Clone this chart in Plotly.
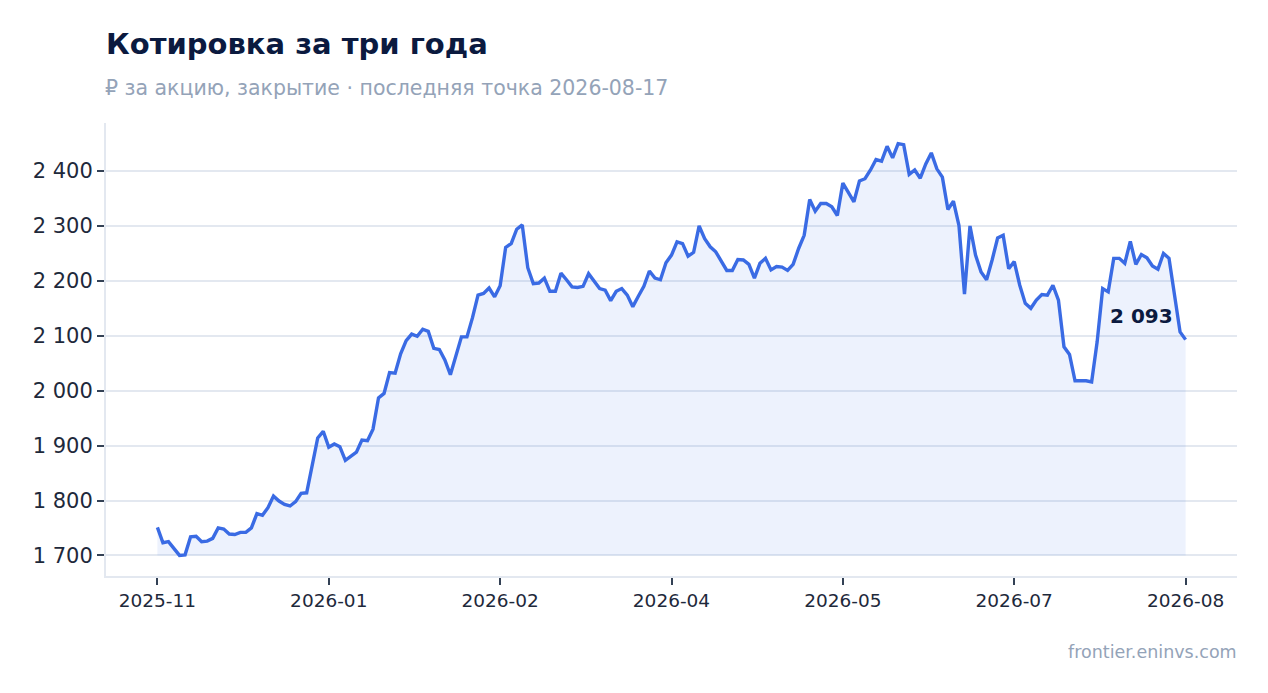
import plotly.graph_objects as go

# ---- data ----
close_values = [
    1751, 1723, 1725, 1712, 1700, 1701, 1734, 1735, 1725, 1726,
    1731, 1750, 1748, 1739, 1738, 1742, 1742, 1750, 1776, 1773,
    1787, 1808, 1799, 1793, 1790, 1798, 1813, 1814, 1865, 1914,
    1926, 1897, 1903, 1898, 1873, 1880, 1888, 1910, 1909, 1930,
    1987, 1995, 2033, 2032, 2067, 2091, 2103, 2099, 2112, 2108,
    2077, 2075, 2056, 2029, 2061, 2098, 2098, 2133, 2174, 2177,
    2187, 2171, 2191, 2261, 2268, 2294, 2302, 2224, 2195, 2196,
    2205, 2181, 2181, 2214, 2202, 2189, 2188, 2190, 2213, 2200,
    2186, 2183, 2164, 2181, 2186, 2174, 2153, 2172, 2190, 2218,
    2205, 2202, 2233, 2247, 2271, 2268, 2245, 2252, 2300, 2277,
    2262, 2253, 2236, 2219, 2219, 2239, 2238, 2230, 2205, 2232,
    2241, 2220, 2226, 2225, 2219, 2230, 2259, 2283, 2348, 2327,
    2341, 2341, 2335, 2319, 2378, 2362, 2344, 2382, 2386, 2402,
    2421, 2418, 2445, 2424, 2450, 2448, 2394, 2402, 2387, 2413,
    2433, 2404, 2389, 2330, 2345, 2301, 2176, 2300, 2247, 2216,
    2202, 2238, 2278, 2283, 2222, 2235, 2192, 2159, 2150, 2165,
    2175, 2174, 2192, 2165, 2080, 2066, 2018, 2018, 2018, 2016,
    2089, 2186, 2180, 2241, 2241, 2232, 2272, 2230, 2248, 2242,
    2227, 2221, 2250, 2241, 2174, 2107, 2093,
]
point_index = list(range(len(close_values)))
tick_positions = [0, 31, 62, 93, 124, 155, 186]
tick_labels = ["2025-11", "2026-01", "2026-02", "2026-04", "2026-05", "2026-07", "2026-08"]
y_ticks = [1700, 1800, 1900, 2000, 2100, 2200, 2300, 2400]
fill_base = 1700
last_date = "2026-08-17"

title_text = "Котировка за три года"
subtitle_text = f"₽ за акцию, закрытие · последняя точка {last_date}"
footer_text = "frontier.eninvs.com"

FONT = "DejaVu Sans"
LINE = "#3a6be4"
FILL = "rgba(58,107,228,0.09)"
GRID = "#e3e8f0"
TICK_TXT = "#1e293b"

n = len(close_values)
pad_x = (n - 1) * 0.05
ymin, ymax = min(close_values), max(close_values)
pad_y = (ymax - ymin) * 0.05

fig = go.Figure()
fig.add_trace(go.Scatter(
    x=point_index, y=[fill_base] * n, mode="lines",
    line=dict(width=0, color="rgba(0,0,0,0)"), hoverinfo="skip", showlegend=False,
))
fig.add_trace(go.Scatter(
    x=point_index, y=close_values, mode="lines",
    line=dict(color=LINE, width=3.4), fill="tonexty", fillcolor=FILL,
    showlegend=False,
))

last_v = close_values[-1]
fig.add_annotation(
    x=point_index[-1], y=last_v, xref="x", yref="y",
    text=f"<b>{last_v:,}</b>".replace(",", " "), showarrow=False,
    xanchor="right", yanchor="middle", xshift=-11, yshift=24,
    font=dict(family=FONT, size=20, color="#0b1a3f"),
)

fig.update_layout(
    width=1268, height=693,
    paper_bgcolor="white", plot_bgcolor="white",
    margin=dict(l=98, r=39, t=115, b=125),
    separators=", ",
    font=dict(family=FONT, color=TICK_TXT),
    title=dict(
        text=title_text, x=98 / 1268, xanchor="left", xref="container",
        y=1 - 36 / 693, yanchor="middle", yref="container",
        font=dict(family=FONT, size=29, color="#0b1a3f", weight="bold"),
    ),
    xaxis=dict(
        range=[-pad_x, n - 1 + pad_x],
        tickmode="array", tickvals=tick_positions, ticktext=tick_labels,
        showgrid=False, zeroline=False,
        showline=True, linecolor=GRID, linewidth=2,
        ticks="outside", ticklen=7, tickwidth=2, tickcolor="#334155",
        tickfont=dict(family=FONT, size=18.5, color=TICK_TXT),
    ),
    yaxis=dict(
        range=[ymin - pad_y, ymax + pad_y],
        tickmode="array", tickvals=y_ticks,
        ticktext=[f"{v:,}".replace(",", " ") for v in y_ticks],
        showgrid=True, gridcolor=GRID, gridwidth=2, zeroline=False,
        showline=True, linecolor=GRID, linewidth=2,
        ticks="outside", ticklen=7, tickwidth=2, tickcolor="#334155",
        tickfont=dict(family=FONT, size=21, color=TICK_TXT),
    ),
)

fig.add_annotation(
    xref="paper", yref="paper", x=0, y=1, xanchor="left", yanchor="middle",
    xshift=-3, yshift=123 - 88,
    text=subtitle_text, showarrow=False,
    font=dict(family=FONT, size=20.5, color="#94a3b8"),
)
fig.add_annotation(
    xref="paper", yref="paper", x=1, y=0, xanchor="right", yanchor="middle",
    xshift=2, yshift=-(652 - 576),
    text=footer_text, showarrow=False,
    font=dict(family=FONT, size=17.5, color="#94a3b8"),
)

fig.write_html("out.html")
